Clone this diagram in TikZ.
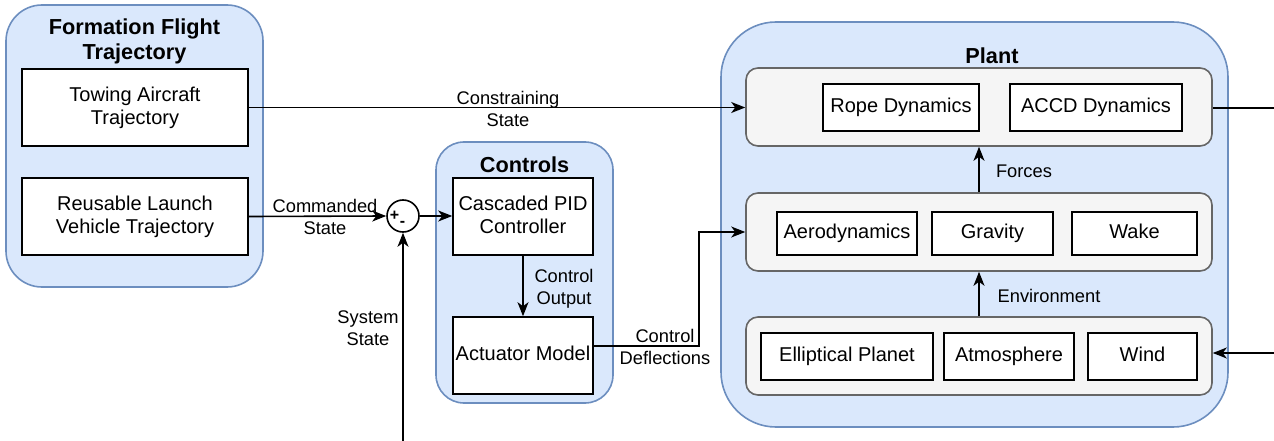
\documentclass[tikz,border=0pt]{standalone}
\usepackage{fontspec}
\setmainfont{Liberation Sans}
\usetikzlibrary{arrows.meta}
\definecolor{contfill}{HTML}{DAE8FC}
\definecolor{contdraw}{HTML}{6C8EBF}
\definecolor{grpfill}{HTML}{F5F5F5}
\definecolor{grpdraw}{HTML}{666666}
\newcommand\dstrut{\rule[-4.2pt]{0pt}{18.1pt}}
\tikzset{
  container/.style={draw=contdraw, fill=contfill, line width=1.6pt, inner sep=0pt},
  group/.style={draw=grpdraw, fill=grpfill, line width=1.6pt, rounded corners=12pt, inner sep=0pt},
  box/.style={draw=black, fill=white, line width=1.6pt, inner sep=0pt, align=center,
    font=\fontsize{20}{23}\selectfont},
  title/.style={font=\fontsize{21.7}{25}\selectfont\bfseries, align=center, inner sep=0pt},
  elabel/.style={font=\fontsize{18.3}{22}\selectfont, align=center, inner sep=0pt},
  conn/.style={draw=black, line width=1.6pt, -{Stealth[length=14pt,width=11pt,inset=4pt]}},
  plainconn/.style={draw=black, line width=1.6pt},
  sumnode/.style={circle, draw=black, fill=white, line width=1.6pt, minimum size=32pt, inner sep=0pt},
  sign/.style={font=\fontsize{16}{16}\selectfont\bfseries, inner sep=0pt}
}
\begin{document}
\begin{tikzpicture}[x=1pt,y=-1pt]
\useasboundingbox (0,0) rectangle (1274,441);
% containers
\node[container, rounded corners=36pt, minimum width=257pt, minimum height=282pt] (fft) at (134.5,146) {};
\node[container, rounded corners=28pt, minimum width=177pt, minimum height=261pt] (ctl) at (524.5,272.5) {};
\node[container, rounded corners=55pt, minimum width=507pt, minimum height=405pt] (plant) at (974.5,224.5) {};
% titles
\node[title] (fftt) at (134.5,41.5) {Formation Flight\\Trajectory};
\node[title] (ctlt) at (524.5,165) {Controls};
\node[title] (plantt) at (992,56) {Plant};
% left boxes
\node[box, minimum width=226pt, minimum height=77pt] (tow) at (135,107.5) {\dstrut Towing Aircraft\\\dstrut Trajectory};
\node[box, minimum width=226pt, minimum height=77pt] (rlv) at (135,216.5) {\dstrut Reusable Launch\\\dstrut Vehicle Trajectory};
% controls boxes
\node[box, minimum width=140pt, minimum height=77pt] (pid) at (523,216.5) {\dstrut Cascaded PID\\\dstrut Controller};
\node[box, minimum width=140pt, minimum height=77pt] (act) at (523,355.5) {\dstrut Actuator Model};
% sum junction
\node[sumnode] (sum) at (403,216) {};
\node[sign] (plus) at (394.5,215.5) {+};
\node[sign] (minus) at (402.5,223.5) {-};
% plant groups
\node[group, minimum width=466pt, minimum height=78pt] (top) at (979,107) {};
\node[group, minimum width=466pt, minimum height=78pt] (mid) at (979,232) {};
\node[group, minimum width=466pt, minimum height=78pt] (bot) at (979,356) {};
% plant items
\node[box, minimum width=156pt, minimum height=47pt] (rope) at (901,107.5) {\dstrut Rope Dynamics};
\node[box, minimum width=172pt, minimum height=47pt] (accd) at (1096,107.5) {\dstrut ACCD Dynamics};
\node[box, minimum width=140pt, minimum height=43pt] (aero) at (847,233.5) {\dstrut Aerodynamics};
\node[box, minimum width=121pt, minimum height=43pt] (grav) at (992.5,233.5) {\dstrut Gravity};
\node[box, minimum width=125pt, minimum height=43pt] (wake) at (1134.5,233.5) {\dstrut Wake};
\node[box, minimum width=172pt, minimum height=47pt] (ell) at (847,356.5) {\dstrut Elliptical Planet};
\node[box, minimum width=130pt, minimum height=47pt] (atm) at (1009,356.5) {\dstrut Atmosphere};
\node[box, minimum width=109pt, minimum height=47pt] (wind) at (1142.5,356.5) {\dstrut Wind};
% free ends
\coordinate (sysin) at (403,441);
\coordinate (outR) at (1274,108);
\coordinate (inR) at (1274,353);
\coordinate (bend1) at (699,346);
\coordinate (bend2) at (699,232);
% connectors
\draw[conn] (tow.east) -- (tow.east -| top.west);
\node[elabel] (lcons) at (508,109) {Constraining\\State};
\draw[conn] (rlv.east) -- (sum.west);
\node[elabel] (lcmd) at (325,217) {Commanded\\State};
\draw[conn] (sum.east) -- (pid.west |- sum.east);
\draw[conn] (sysin) -- (sum.south);
\node[elabel] (lsys) at (368,328) {System\\State};
\draw[conn] (pid.south) -- (act.north);
\node[elabel] (lco) at (564,289) {Control\\Output};
\draw[conn] (act.east |- bend1) -- (bend1) -- (bend2) -- (mid.west);
\node[elabel] (lcd) at (665,347) {Control\\Deflections};
\draw[conn] (mid.north) -- (top.south);
\node[elabel] (lforces) at (1024,171) {Forces};
\draw[conn] (bot.north) -- (mid.south);
\node[elabel] (lenv) at (1049,296) {Environment};
\draw[plainconn] (top.east |- outR) -- (outR);
\draw[conn] (inR) -- (inR -| bot.east);
\end{tikzpicture}
\end{document}
